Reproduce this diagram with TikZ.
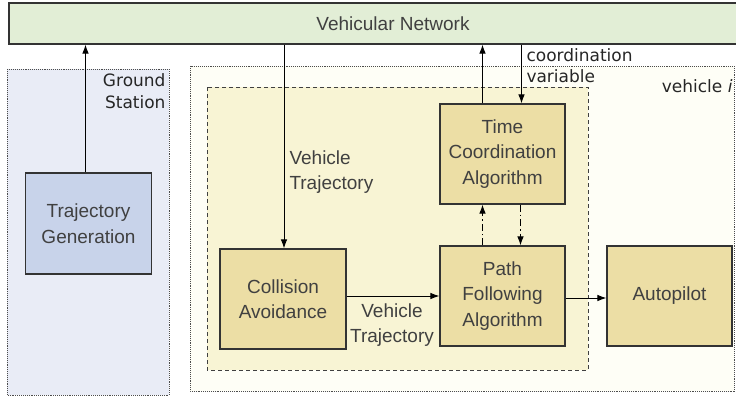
\documentclass[tikz,border=0pt]{standalone}
\usepackage{fontspec}
\setmainfont{Liberation Sans}
\newfontfamily\labelfont{DejaVu Sans}
\usetikzlibrary{arrows.meta,positioning}
\definecolor{netgreen}{HTML}{E2EED6}
\definecolor{groundblue}{HTML}{E9ECF6}
\definecolor{genblue}{HTML}{C8D3EA}
\definecolor{vehwhite}{HTML}{FEFEF6}
\definecolor{innerlight}{HTML}{F8F4D4}
\definecolor{blockyellow}{HTML}{ECDEA5}
\tikzset {
block/.style={shape=rectangle,draw=black!80,line width=1.1pt,fill=blockyellow,text=black!75,align=center,inner sep=0pt,font=\fontsize{19}{25.5}\selectfont},
region/.style={draw=black!70,densely dotted,line width=0.9pt},
lbl/.style={inner sep=0pt,text=black!85,font=\labelfont\fontsize{17}{21.5}\selectfont},
sig/.style={inner sep=0pt,text=black!75,font=\fontsize{19}{25}\selectfont},
dashdot/.style={dash pattern=on 7pt off 3pt on 1.5pt off 3pt}
}

\begin{document}
\begin{tikzpicture}
[x=1pt,y=-1pt,>={Latex[length=9pt,width=6.5pt]},line width=1pt]
\path[use as bounding box,clip] (0,0) rectangle (736,396);
% regions
\draw[region,fill=groundblue] (7,69) rectangle (169,395);
\draw[region,fill=vehwhite] (190,66) rectangle (734,391);
\draw[dash pattern=on 4pt off 3pt,draw=black!75,line width=0.9pt,fill=innerlight] (207,87) rectangle (588,370);
% blocks
\node (vn) at (393,23.5) [block,fill=netgreen,minimum width=768pt,minimum height=41pt] {Vehicular Network};
\node (tg) at (88.5,223.5) [block,fill=genblue,minimum width=126pt,minimum height=101pt] {Trajectory\\Generation};
\node (tca) at (502.5,154) [block,minimum width=125pt,minimum height=100pt] {Time\\Coordination\\Algorithm};
\node (ca) at (283,299) [block,minimum width=126pt,minimum height=100pt] {Collision\\Avoidance};
\node (pfa) at (502.5,296) [block,minimum width=125pt,minimum height=100pt] {Path\\Following\\Algorithm};
\node (ap) at (669.5,296) [block,minimum width=125pt,minimum height=100pt] {Autopilot};
% labels
\node (gs) at (166,91) [lbl,anchor=east,align=right] {Ground\\Station};
\node (vi) at (733,86) [lbl,anchor=east] {vehicle \textit{i}};
\node (cv) at (526,65.5) [lbl,anchor=west,align=left] {coordination\\variable};
\node (vt1) at (289,172.5) [sig,anchor=west,align=left] {Vehicle\\Trajectory};
\node (vt2) at (392,325) [sig,align=center] {Vehicle\\Trajectory};
% connections
\draw[->] ([xshift=-3pt]tg.north) -- ([xshift=-3pt]tg.north |- vn.south);
\draw[->] ([xshift=1pt]ca.north |- vn.south) -- ([xshift=1pt]ca.north);
\draw[->] ([xshift=-20pt]tca.north) -- ([xshift=-20pt]tca.north |- vn.south);
\draw[->] ([xshift=19pt]tca.north |- vn.south) -- ([xshift=19pt]tca.north);
\draw[->,dashdot] ([xshift=-20pt]pfa.north) -- ([xshift=-20pt]tca.south);
\draw[->,dashdot] ([xshift=18pt]tca.south) -- ([xshift=18pt]pfa.north);
\draw[->] (ca.east |- pfa.west) -- (pfa.west);
\draw[->] ([yshift=-2pt]pfa.east) -- ([yshift=-2pt]ap.west);
\end{tikzpicture}
\end{document}
